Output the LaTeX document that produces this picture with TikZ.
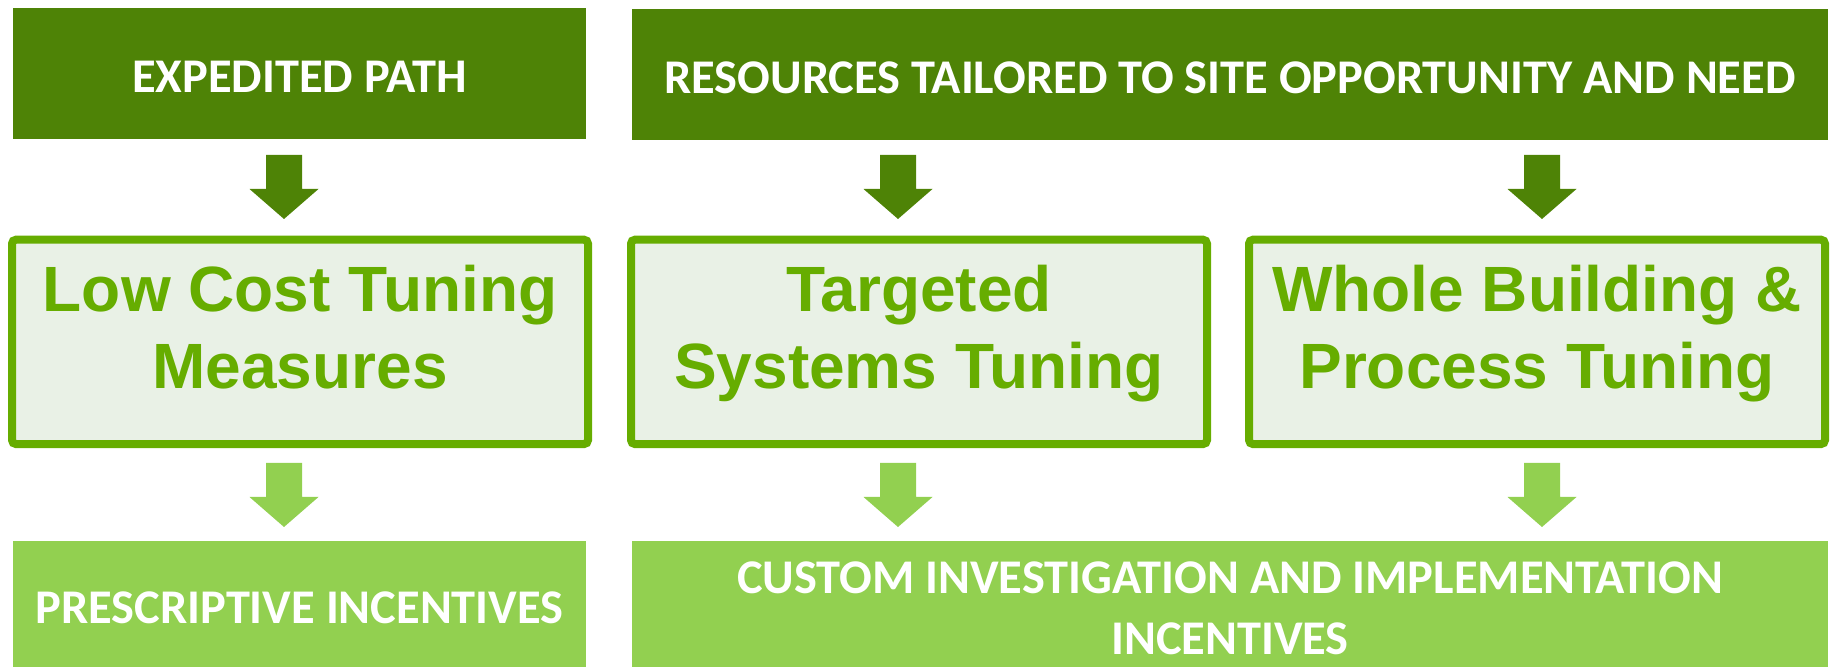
\documentclass[tikz,border=0pt]{standalone}
\usepackage{fontspec}
\setmainfont{Liberation Sans}
\newfontfamily\calibrifont{Carlito}

\begin{document}
\begin{tikzpicture}[x=0.5pt,y=-0.5pt,
    capbox/.style={draw=none,inner sep=0pt,minimum height=65.4pt},
    tunebox/.style={draw=tunegreen,fill=tunefill,line width=4pt,rounded corners=2pt,
      inner sep=0pt,minimum width=288pt,minimum height=102.2pt},
    captext/.style={text=white,align=center,
      font=\calibrifont\bfseries\fontsize{24.2}{30.3}\selectfont},
    tunetext/.style={text=tunegreen,align=center,text depth=0pt,
      font=\bfseries\fontsize{32}{38.3}\selectfont}]
  \definecolor{pathdark}{HTML}{4E8306}
  \definecolor{tunegreen}{HTML}{66AD00}
  \definecolor{tunefill}{HTML}{E9F1E6}
  \definecolor{incentlight}{HTML}{92D050}
  \path[use as bounding box] (0,0) rectangle (1833,667);

  % header row
  \node[capbox,fill=pathdark,minimum width=286.5pt] (expedited) at (299.5,73.7) {};
  \node[capbox,fill=pathdark,minimum width=598pt] (tailored) at (1230,74.8) {};
  \node[captext,yshift=-1.7pt] (expeditedtxt) at (expedited.center) {EXPEDITED PATH};
  \node[captext,yshift=-1.35pt] (tailoredtxt) at (tailored.center)
        {RESOURCES TAILORED TO SITE OPPORTUNITY AND NEED};

  % tuning tiers
  \foreach \name/\cx/\txt in {lowcost/300/{Low Cost Tuning\\Measures},
      targeted/919/{Targeted\\Systems Tuning},
      wholebldg/1537/{Whole Building \&\\Process Tuning}}{
    \node[tunebox] (\name) at (\cx,341.9) {};
    \node[tunetext,yshift=7.45pt] (\name txt) at (\name.center) {\txt};
  }

  % incentive row
  \node[capbox,fill=incentlight,minimum width=286.5pt,minimum height=67.3pt]
        (prescriptive) at (299.5,608) {};
  \node[capbox,fill=incentlight,minimum width=598pt,minimum height=67.3pt]
        (custom) at (1230,608) {};
  \node[captext] (prescriptivetxt) at (prescriptive.center) {PRESCRIPTIVE INCENTIVES};
  \node[captext] (customtxt) at (custom.center)
        {CUSTOM INVESTIGATION AND IMPLEMENTATION\\INCENTIVES};

  % block arrows between the rows
  \foreach \cx/\ay/\col in {284/155/pathdark,898/155/pathdark,1542/155/pathdark,
      284/463/incentlight,898/463/incentlight,1542/463/incentlight}{
    \fill[\col] (\cx-18,\ay) -- ++(36,0) -- ++(0,34) -- ++(16.5,0)
      -- (\cx,\ay+64) -- (\cx-34.5,\ay+34) -- ++(16.5,0) -- cycle;
  }
\end{tikzpicture}
\end{document}
